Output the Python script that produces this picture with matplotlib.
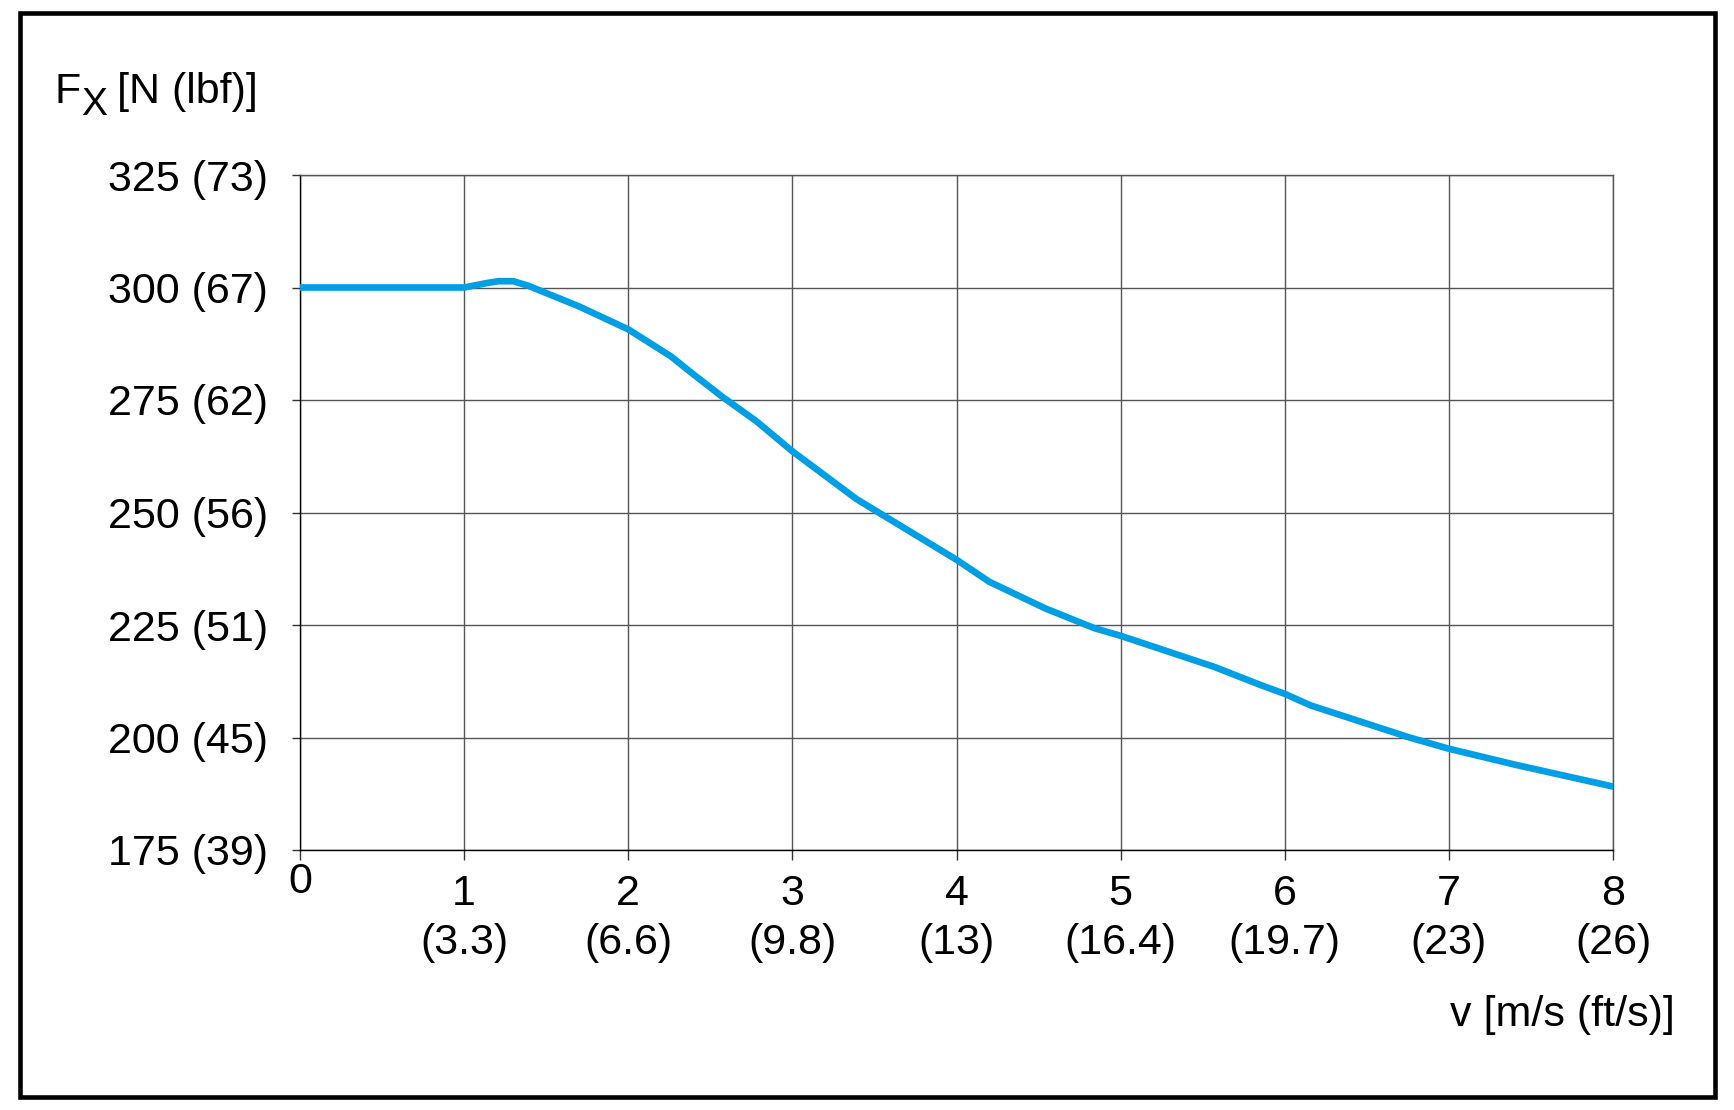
import numpy as np
import matplotlib.pyplot as plt
from matplotlib.patches import Rectangle

plt.rcParams['font.family'] = ['Liberation Sans', 'DejaVu Sans']

# values
v = [0, 1.0, 1.14, 1.21, 1.30, 1.39, 1.70, 2.0, 2.26, 2.39, 2.57, 2.78, 3.0,
     3.39, 4.0, 4.2, 4.54, 4.84, 5.0, 5.57, 5.85, 6.0, 6.16, 6.76, 7.0, 7.41, 8.0]
fx = [300, 300, 301.0, 301.4, 301.4, 300.4, 295.8, 290.7, 284.7, 280.9, 275.8,
      270.3, 263.6, 253.0, 239.5, 234.6, 228.7, 224.3, 222.6, 215.7, 211.7,
      209.7, 207.1, 200.0, 197.5, 193.9, 189.1]

y_ticks = [175, 200, 225, 250, 275, 300, 325]
y_labels = ['175 (39)', '200 (45)', '225 (51)', '250 (56)', '275 (62)', '300 (67)', '325 (73)']
x_ticks = [0, 1, 2, 3, 4, 5, 6, 7, 8]
x_labels = ['', '1\n(3.3)', '2\n(6.6)', '3\n(9.8)', '4\n(13)', '5\n(16.4)',
            '6\n(19.7)', '7\n(23)', '8\n(26)']

W, H = 1734, 1110
fig = plt.figure(figsize=(W / 100, H / 100), dpi=100)
ax = fig.add_axes([300 / W, 1 - 850 / H, (1613 - 300) / W, (850 - 175) / H])

ax.plot(v, fx, color='#009FE3', lw=4.8, solid_joinstyle='round', zorder=3)

ax.set_xlim(0, 8)
ax.set_ylim(175, 325)
ax.set_xticks(x_ticks)
ax.set_xticklabels(x_labels, fontsize=31, linespacing=1.3, va='top')
ax.set_yticks(y_ticks)
ax.set_yticklabels(y_labels, fontsize=31)
ax.tick_params(axis='y', length=6, width=1, pad=17, color='#333333')
ax.tick_params(axis='x', length=7, width=1, pad=10, color='#333333')
ax.grid(True, color='#555555', lw=1)
for s in ['top', 'right']:
    ax.spines[s].set_color('#555555')
    ax.spines[s].set_linewidth(1)
for s in ['left', 'bottom']:
    ax.spines[s].set_color('black')
    ax.spines[s].set_linewidth(1)

# the "0" sits a bit higher than the other x labels
ax.annotate('0', xy=(0, 175), xytext=(0, -12), textcoords='offset pixels',
            fontsize=31, ha='center', va='top', annotation_clip=False)

# y axis title with a big subscript X
fig.text(55 / W, 1 - 103 / H, 'F', fontsize=31, ha='left', va='baseline')
fig.text(81 / W, 1 - 115 / H, 'X', fontsize=28, ha='left', va='baseline')
fig.text(117 / W, 1 - 103 / H, '[N (lbf)]', fontsize=31, ha='left', va='baseline')
fig.text(1675 / W, 1 - 1015 / H, 'v [m/s (ft/s)]', fontsize=31, ha='right', va='center')

fig.patches.append(Rectangle((20 / W, 1 - 1097 / H), (1715 - 20) / W, (1097 - 13) / H,
                             transform=fig.transFigure, fill=False, ec='black', lw=3.3))

fig.savefig('out.png', dpi=100)
